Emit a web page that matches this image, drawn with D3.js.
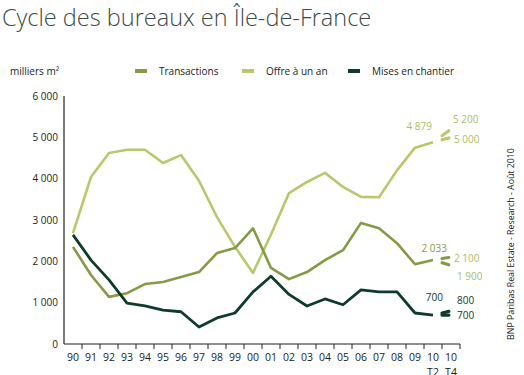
<!DOCTYPE html>
<meta charset="utf-8">
<script src="https://d3js.org/d3.v7.min.js"></script>
<style>
  body { margin: 0; background: #fff; }
  svg text { font-family: "Open Sans", "DejaVu Sans", sans-serif; }
</style>
<body>
<svg width="524" height="375"></svg>
<script>
// periods on the x axis
var periods = ["90","91","92","93","94","95","96","97","98","99","00","01","02","03","04","05","06","07","08","09","10 T2","10 T4"];
var tickLabels = ["90","91","92","93","94","95","96","97","98","99","00","01","02","03","04","05","06","07","08","09","10","10"];
var subLabels = {"10 T2": "T2", "10 T4": "T4"};

// observed values up to 10 T2 (milliers m²)
var transactions = [2350,1670,1140,1230,1450,1500,1620,1740,2200,2320,2800,1840,1570,1740,2030,2270,2930,2800,2440,1930,2033];
var offre        = [2680,4040,4620,4700,4700,4380,4570,3950,3070,2350,1720,2650,3650,3920,4140,3800,3560,3550,4200,4750,4879];
var chantier     = [2640,2030,1550,990,920,820,780,410,630,750,1260,1640,1200,920,1090,950,1310,1260,1260,750,700];

// forecasts for 10 T4 (high, low)
var transactionsT4 = [2100,1900];
var offreT4 = [5200,5000];
var chantierT4 = [800,700];

var yTicks = [0,1000,2000,3000,4000,5000,6000];

var cTrans = "#869a45", cOffre = "#b6c96c", cChant = "#0f3b2b";

var svg = d3.select("svg");
var x = d3.scaleBand().domain(periods).range([64, 460]);
var y = d3.scaleLinear().domain([0, 6000]).range([344, 96]);
var cx = function(p) { return x(p) + x.bandwidth() / 2; };
var fmt = function(v) { return d3.format(",")(v).replace(/,/g, " "); };

// title
svg.append("text")
  .attr("x", 2).attr("y", 26)
  .attr("fill", "#3c4b4a")
  .style("font-size", "23.5px").style("font-weight", 300)
  .text("Cycle des bureaux en Île-de-France");

svg.append("text")
  .attr("x", 10).attr("y", 75)
  .attr("fill", "#222")
  .style("font-size", "10px")
  .text("milliers m²");

// legend
var legend = [["Transactions", cTrans, 135], ["Offre à un an", cOffre, 242], ["Mises en chantier", cChant, 348]];
legend.forEach(function(l) {
  svg.append("line")
    .attr("x1", l[2]).attr("x2", l[2] + 12).attr("y1", 71).attr("y2", 71)
    .attr("stroke", l[1]).attr("stroke-width", 4);
  svg.append("text")
    .attr("x", l[2] + 24).attr("y", 75)
    .attr("fill", "#222")
    .style("font-size", "10px")
    .text(l[0]);
});

// y axis
svg.append("line")
  .attr("x1", 64).attr("x2", 64).attr("y1", y(6000)).attr("y2", y(0))
  .attr("stroke", "#222").attr("stroke-width", 1.2);
svg.selectAll(".ytick").data(yTicks).enter().append("text")
  .attr("x", 58).attr("y", function(d) { return y(d) + 3.5; })
  .attr("text-anchor", "end")
  .attr("fill", "#222")
  .style("font-size", "10px")
  .text(function(d) { return fmt(d); });

// x axis
svg.append("line")
  .attr("x1", 64).attr("x2", 460).attr("y1", y(0)).attr("y2", y(0))
  .attr("stroke", "#222").attr("stroke-width", 1.2);
var bounds = periods.map(function(p) { return x(p); }).concat([460]);
svg.selectAll(".xtick").data(bounds.slice(1)).enter().append("line")
  .attr("x1", function(d) { return d; }).attr("x2", function(d) { return d; })
  .attr("y1", y(0)).attr("y2", y(0) + 5)
  .attr("stroke", "#222").attr("stroke-width", 1);
svg.selectAll(".xlab").data(periods).enter().append("text")
  .attr("x", function(d) { return cx(d); }).attr("y", 361)
  .attr("text-anchor", "middle")
  .attr("fill", "#222")
  .style("font-size", "10.5px")
  .text(function(d, i) { return tickLabels[i]; });
svg.selectAll(".xsub").data(periods.filter(function(p) { return subLabels[p]; })).enter().append("text")
  .attr("x", function(d) { return cx(d); }).attr("y", 376)
  .attr("text-anchor", "middle")
  .attr("fill", "#222")
  .style("font-size", "10.5px")
  .text(function(d) { return subLabels[d]; });

// series
var line = d3.line()
  .x(function(d, i) { return cx(periods[i]); })
  .y(function(d) { return y(d); });

function drawSeries(vals, fc, color, width) {
  svg.append("path")
    .attr("d", line(vals))
    .attr("fill", "none")
    .attr("stroke", color)
    .attr("stroke-width", width)
    .attr("stroke-linejoin", "round");
  var last = vals[vals.length - 1];
  var x0 = cx("10 T2"), x1 = cx("10 T4");
  fc.forEach(function(v) {
    var t0 = 0.5, t1 = 0.88;
    svg.append("line")
      .attr("x1", x0 + (x1 - x0) * t0).attr("y1", y(last + (v - last) * t0))
      .attr("x2", x0 + (x1 - x0) * t1).attr("y2", y(last + (v - last) * t1))
      .attr("stroke", color).attr("stroke-width", width + 0.5)
      .attr("stroke-linecap", "round");
  });
}
drawSeries(offre, offreT4, cOffre, 2.6);
drawSeries(transactions, transactionsT4, cTrans, 2.6);
drawSeries(chantier, chantierT4, cChant, 2.8);

// value labels
function label(txt, px, py, color, anchor) {
  svg.append("text")
    .attr("x", px).attr("y", py)
    .attr("text-anchor", anchor || "start")
    .attr("fill", color)
    .style("font-size", "10px")
    .text(txt);
}
var xT2 = cx("10 T2"), xT4 = cx("10 T4");
var cLab = "#a9bd62";
label(fmt(offre[offre.length - 1]), xT2 - 1, y(offre[offre.length - 1]) - 12, cLab, "end");
label(fmt(offreT4[0]), xT4 + 2, y(offreT4[0]) - 6, cLab);
label(fmt(offreT4[1]), xT4 + 3, y(offreT4[1]) + 6, cLab);
label(fmt(transactions[transactions.length - 1]), xT2 + 14, y(transactions[transactions.length - 1]) - 8, cTrans, "end");
label(fmt(transactionsT4[0]), xT4 + 3, y(transactionsT4[0]) + 5, cLab);
label(fmt(transactionsT4[1]), xT4 + 6, y(transactionsT4[1]) + 15, cLab);
label(fmt(chantier[chantier.length - 1]), xT2 + 10, y(chantier[chantier.length - 1]) - 14, cChant, "end");
label(fmt(chantierT4[0]), xT4 + 6, y(chantierT4[0]) - 7, cChant);
label(fmt(chantierT4[1]), xT4 + 6, y(chantierT4[1]) + 4, cChant);

// source note
svg.append("text")
  .attr("transform", "translate(514,244) rotate(-90)")
  .attr("text-anchor", "middle")
  .attr("fill", "#222")
  .style("font-size", "8.8px")
  .text("BNP Paribas Real Estate - Research - Août 2010");
</script>
</body>
